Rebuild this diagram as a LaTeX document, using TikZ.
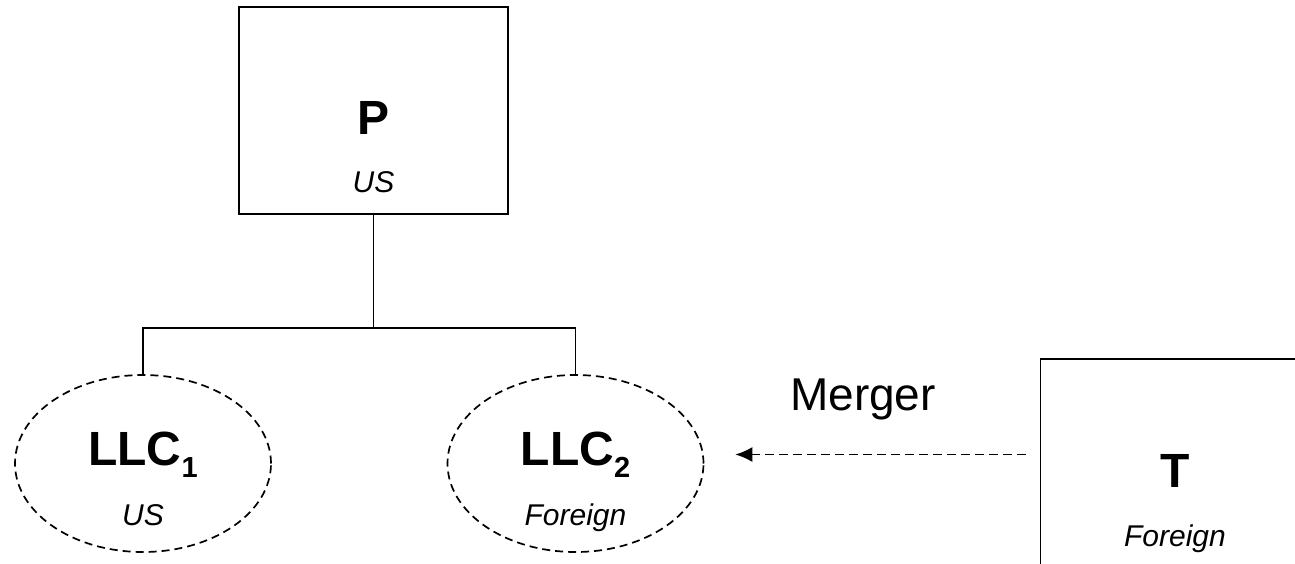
\documentclass[tikz,border=0pt]{standalone}
\usepackage{fontspec}
\setmainfont{Liberation Sans}
\usetikzlibrary{arrows.meta,positioning,shapes.geometric}

\newcommand{\idx}[1]{\raisebox{-0.27em}{\fontsize{29}{29}\selectfont #1}}

\tikzset{
    firm/.style={draw, line width=1.7pt, rectangle, minimum width=269pt, minimum height=207pt, inner sep=0pt},
    branch/.style={draw, line width=1.7pt, dashed, dash pattern=on 8pt off 5pt, ellipse, minimum width=256pt, minimum height=177pt, inner sep=0pt},
    entity/.style={anchor=base, inner sep=0pt, font=\fontsize{48}{48}\selectfont\bfseries},
    home/.style={anchor=base, inner sep=0pt, font=\fontsize{30}{30}\selectfont\itshape},
    tree/.style={line width=1.6pt},
    flow/.style={line width=1.6pt, dash pattern=on 9pt off 5pt, -{Latex[length=17pt, width=15pt]}}
}

\begin{document}
\begin{tikzpicture}[x=1pt, y=-1pt]

        \useasboundingbox (0,0) rectangle (1295,563);
        \clip (0,0) rectangle (1295,563);

        % parent and target
        \node (P) [firm] at (373.5,110.5) {};
        \node (T) [firm] at (1175,462.5) {};

        % the two LLCs
        \node (L1) [branch] at (143,463.5) {};
        \node (L2) [branch] at (575.5,463.5) {};

        % names and residence
        \node (Pname) [entity] at (373.5,134) {P};
        \node (Pres) [home] at (373.5,192) {US};
        \node (L1name) [entity] at (143,465) {LLC\idx{1}};
        \node (L1res) [home] at (143,525) {US};
        \node (L2name) [entity] at (575.5,465) {LLC\idx{2}};
        \node (L2res) [home] at (575.5,525) {Foreign};
        \node (Tname) [entity] at (1175,487) {T};
        \node (Tres) [home] at (1175,546) {Foreign};

        \node (merge) [anchor=base, inner sep=0pt, font=\fontsize{46}{46}\selectfont] at (863,410) {Merger};

        % ownership
        \coordinate (fork) at (373.5,328);
        \draw[tree] (P) -- (fork);
        \draw[tree] (L1.north) |- (fork) -| (L2.north);

        \draw[flow, shorten <=14pt, shorten >=31pt] ([yshift=8pt]T.west) -- ([yshift=8pt]T.west -| L2.east);
    \end{tikzpicture}
\end{document}
